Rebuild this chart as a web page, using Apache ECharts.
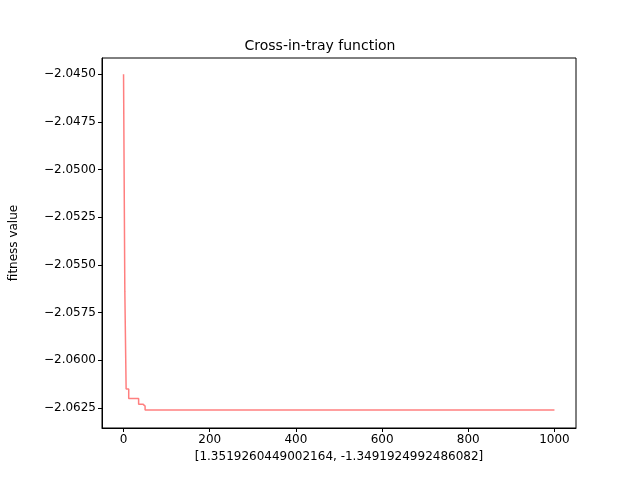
<!DOCTYPE html>
<html>
<head>
<meta charset="UTF-8">
<script src="https://cdn.jsdelivr.net/npm/echarts@6/dist/echarts.min.js"></script>
<style>html,body{margin:0;width:640px;height:480px;background:#fff}#c{width:640px;height:480px}</style>
</head>
<body>
<div id="c"></div>
<script>
var iters = [0, 2, 3, 6, 12, 35, 45, 50, 1000];
var fitness = [-2.0450, -2.0450, -2.0564, -2.0615, -2.0620, -2.0623, -2.0624, -2.0626, -2.0626];
var xTicks = [0, 200, 400, 600, 800, 1000];
var yTicks = [-2.0450, -2.0475, -2.0500, -2.0525, -2.0550, -2.0575, -2.0600, -2.0625];

var chart = echarts.init(document.getElementById('c'));
var data = iters.map(function (x, i) { return [x, fitness[i]]; });
var font = 'DejaVu Sans';
chart.setOption({
    animation: false,
    title: {text: 'Cross-in-tray function', left: 'center', top: 34,
        textStyle: {fontFamily: font, fontSize: 14, fontWeight: 'normal', color: '#000'}},
    grid: {left: 80, right: 64, top: 58, bottom: 52, show: true, borderColor: '#000', borderWidth: 1},
    xAxis: {
        type: 'value', min: -50, max: 1050,
        name: '[1.3519260449002164, -1.3491924992486082]',
        nameLocation: 'middle', nameGap: 22,
        nameTextStyle: {fontFamily: font, fontSize: 12, color: '#000'},
        axisLine: {onZero: false, lineStyle: {color: '#000'}},
        axisTick: {length: 4, lineStyle: {color: '#000'}, customValues: xTicks},
        axisLabel: {fontFamily: font, fontSize: 12, color: '#000', margin: 6,
            customValues: xTicks, formatter: function (v) { return String(v); }},
        splitLine: {show: false}
    },
    yAxis: {
        type: 'value', min: -2.06355, max: -2.04415,
        name: 'fitness value', nameLocation: 'middle', nameGap: 82,
        nameTextStyle: {fontFamily: font, fontSize: 12, color: '#000'},
        axisLine: {show: true, onZero: false, lineStyle: {color: '#000'}},
        axisTick: {show: true, length: 4, lineStyle: {color: '#000'}, customValues: yTicks},
        axisLabel: {fontFamily: font, fontSize: 12, color: '#000', margin: 6,
            customValues: yTicks,
            formatter: function (v) { return v.toFixed(4).replace('-', '\u2212'); }},
        splitLine: {show: false}
    },
    series: [{
        type: 'line', step: 'end', data: data, showSymbol: false,
        lineStyle: {color: 'rgba(255,0,0,0.5)', width: 1.5}
    }]
});
</script>
</body>
</html>
